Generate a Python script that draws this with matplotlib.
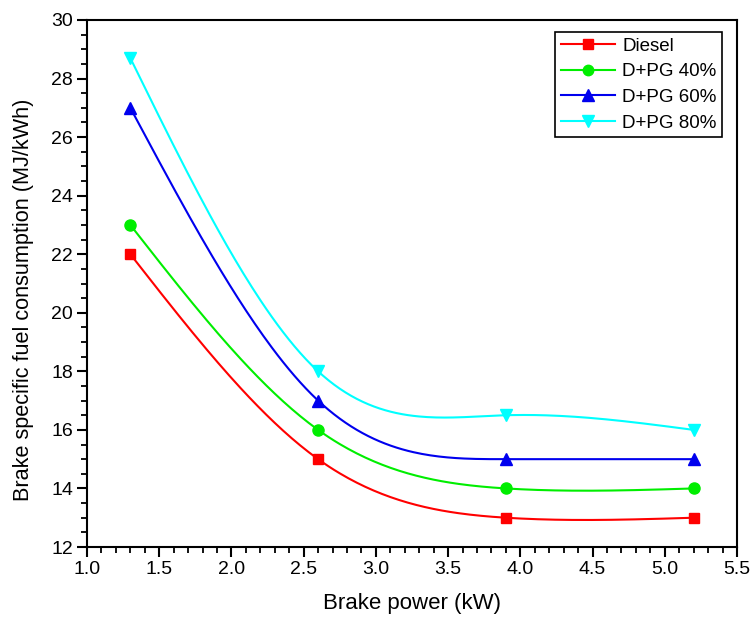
import numpy as np
import matplotlib
matplotlib.use("Agg")
import matplotlib.pyplot as plt
from matplotlib.ticker import MultipleLocator, FormatStrFormatter

plt.rcParams['font.family'] = ['Liberation Sans', 'DejaVu Sans']

brake_power = [1.3, 2.6, 3.9, 5.2]
diesel = [22.0, 15.0, 13.0, 13.0]
pg40 = [23.0, 16.0, 14.0, 14.0]
pg60 = [27.0, 17.0, 15.0, 15.0]
pg80 = [28.7, 18.0, 16.5, 16.0]

labels = ['Diesel', 'D+PG 40%', 'D+PG 60%', 'D+PG 80%']
colors = ['#ff0000', '#00ee00', '#0000ee', '#00ffff']
markers = ['s', 'o', '^', 'v']
msizes = [7.5, 8, 8.5, 8.5]


def natural_spline(x, y, n=200):
    """Natural cubic spline through the measured points."""
    x = np.asarray(x, float)
    y = np.asarray(y, float)
    k = len(x)
    h = np.diff(x)
    A = np.zeros((k, k))
    b = np.zeros(k)
    A[0, 0] = A[-1, -1] = 1.0
    for i in range(1, k - 1):
        A[i, i - 1] = h[i - 1]
        A[i, i] = 2 * (h[i - 1] + h[i])
        A[i, i + 1] = h[i]
        b[i] = 3 * ((y[i + 1] - y[i]) / h[i] - (y[i] - y[i - 1]) / h[i - 1])
    c = np.linalg.solve(A, b)
    xs = np.linspace(x[0], x[-1], n)
    ys = np.empty_like(xs)
    for j, xv in enumerate(xs):
        i = min(np.searchsorted(x, xv, side='right') - 1, k - 2)
        dx = xv - x[i]
        bi = (y[i + 1] - y[i]) / h[i] - h[i] * (2 * c[i] + c[i + 1]) / 3
        di = (c[i + 1] - c[i]) / (3 * h[i])
        ys[j] = y[i] + bi * dx + c[i] * dx ** 2 + di * dx ** 3
    return xs, ys


fig = plt.figure(figsize=(7.53, 6.24), dpi=100)
ax = fig.add_axes([87 / 753, 1 - 547 / 624, 650 / 753, 527 / 624])

handles = []
for vals, lab, col, mk, ms in zip([diesel, pg40, pg60, pg80], labels, colors, markers, msizes):
    xs, ys = natural_spline(brake_power, vals)
    ax.plot(xs, ys, color=col, lw=1.5)
    ax.plot(brake_power, vals, linestyle='none', marker=mk, color=col, markersize=ms)
    h, = ax.plot([], [], color=col, lw=1.5, marker=mk, markersize=ms - 0.5, label=lab)
    handles.append(h)

ax.set_xlim(1.0, 5.5)
ax.set_ylim(12, 30)
ax.xaxis.set_major_locator(MultipleLocator(0.5))
ax.xaxis.set_minor_locator(MultipleLocator(0.1))
ax.yaxis.set_major_locator(MultipleLocator(2))
ax.yaxis.set_minor_locator(MultipleLocator(0.5))
ax.xaxis.set_major_formatter(FormatStrFormatter('%.1f'))
ax.tick_params(which='major', direction='out', length=7, width=1.5, labelsize=14, pad=3)
ax.tick_params(which='minor', direction='out', length=4, width=1.3)
for sp in ax.spines.values():
    sp.set_linewidth(1.5)

ax.set_xlabel('Brake power (kW)', fontsize=16, labelpad=11)
ax.set_ylabel('Brake specific fuel consumption (MJ/kWh)', fontsize=15.6)
ax.yaxis.set_label_coords(-0.082, 0.469)

leg = ax.legend(handles=handles, loc='upper right', fontsize=13.5,
                fancybox=False, edgecolor='black', framealpha=1,
                handlelength=2.9, handletextpad=0.35, borderpad=0.3,
                labelspacing=0.45, borderaxespad=0,
                bbox_to_anchor=(0.977, 0.977))
leg.get_frame().set_linewidth(1.2)

fig.savefig('out.png', dpi=100)
